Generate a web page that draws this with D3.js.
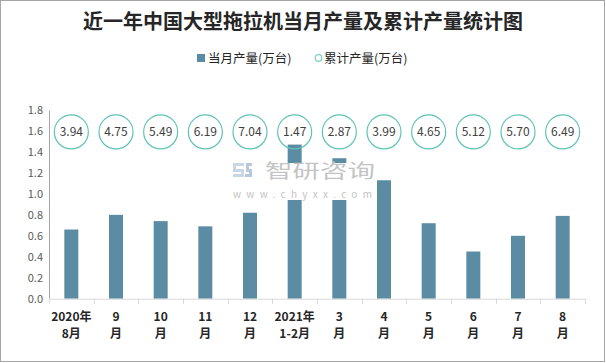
<!DOCTYPE html>
<html>
<head>
  <meta charset="utf-8">
  <title>近一年中国大型拖拉机当月产量及累计产量统计图</title>
  <style>
    body { margin: 0; background: #fff; }
    svg { display: block; font-family: "Noto Sans CJK SC", "Noto Sans", sans-serif; }
    .xlab { font-weight: bold; font-size: 12px; fill: #262626; }
    .ylab { font-size: 11px; fill: #595959; }
  </style>
</head>
<body>
  <svg width="606" height="363"></svg>
  <script src="https://d3js.org/d3.v7.min.js"></script>
  <script>
    // month labels, two lines each
    var months = [
      ['2020年', '8月'], ['9', '月'], ['10', '月'], ['11', '月'], ['12', '月'],
      ['2021年', '1-2月'], ['3', '月'], ['4', '月'], ['5', '月'], ['6', '月'], ['7', '月'], ['8', '月']
    ];
    // 当月产量 (万台)
    var monthly = [0.66, 0.80, 0.74, 0.69, 0.82, 1.47, 1.34, 1.13, 0.72, 0.45, 0.60, 0.79];
    // 累计产量 (万台)
    var cumulative = ['3.94', '4.75', '5.49', '6.19', '7.04', '1.47', '2.87', '3.99', '4.65', '5.12', '5.70', '6.49'];
    var yTicks = [0, 0.2, 0.4, 0.6, 0.8, 1.0, 1.2, 1.4, 1.6, 1.8];

    var svg = d3.select('svg');
    // plot area (note: "top" is a reserved window prop, so prefix these)
    var plotL = 49, plotR = 585, plotT = 110, plotB = 298.7;

    // outer frame
    svg.append('rect')
      .attr('x', 0.5).attr('y', 0.5).attr('width', 604).attr('height', 361)
      .attr('fill', '#fff').attr('stroke', '#a6a6a6');

    svg.append('text')
      .attr('x', 303).attr('y', 29)
      .attr('text-anchor', 'middle')
      .style('font-size', '20px').style('font-weight', 'bold').style('fill', '#262626')
      .text('近一年中国大型拖拉机当月产量及累计产量统计图');

    // legend
    var leg = svg.append('g').style('font-size', '12.5px').style('fill', '#262626');
    leg.append('rect').attr('x', 197).attr('y', 54).attr('width', 8).attr('height', 8).attr('fill', '#5b8ca3');
    leg.append('text').attr('x', 208).attr('y', 62.5).text('当月产量(万台)');
    leg.append('circle').attr('cx', 318.5).attr('cy', 58).attr('r', 3.3)
      .attr('fill', 'none').attr('stroke', '#7fcfc6').attr('stroke-width', 1.2);
    leg.append('text').attr('x', 324).attr('y', 62.5).text('累计产量(万台)');

    var x = d3.scaleBand().domain(d3.range(months.length)).range([plotL, plotR]);
    var y = d3.scaleLinear().domain([0, 1.8]).range([plotB, plotT]);

    // y axis
    var yAxis = svg.append('g')
      .attr('transform', 'translate(' + plotL + ',0)')
      .call(d3.axisLeft(y).tickValues(yTicks).tickFormat(d3.format('.1f')).tickSize(0).tickPadding(6));
    yAxis.select('.domain').attr('stroke', '#a6a6a6');
    yAxis.selectAll('text').attr('class', 'ylab').attr('font-family', null).attr('font-size', null);
    yAxis.attr('font-family', null).attr('font-size', null);

    // bars
    var bw = 14;
    svg.append('g').selectAll('rect')
      .data(monthly)
      .join('rect')
      .attr('x', function(d, i) { return x(i) + x.bandwidth() / 2 - bw / 2; })
      .attr('y', function(d) { return y(d); })
      .attr('width', bw)
      .attr('height', function(d) { return plotB - y(d); })
      .attr('fill', '#5b8ca3');

    // x axis line and ticks at band edges
    var xa = svg.append('g');
    xa.append('line').attr('x1', plotL).attr('x2', plotR).attr('y1', plotB + 0.5).attr('y2', plotB + 0.5)
      .attr('stroke', '#d9d9d9');
    xa.selectAll('line.tk')
      .data(d3.range(months.length + 1))
      .join('line').attr('class', 'tk')
      .attr('x1', function(i) { return Math.round(plotL + i * x.step()) + 0.5; })
      .attr('x2', function(i) { return Math.round(plotL + i * x.step()) + 0.5; })
      .attr('y1', plotB).attr('y2', plotB + 5)
      .attr('stroke', '#d9d9d9');

    var labs = xa.selectAll('text.xlab')
      .data(months)
      .join('text').attr('class', 'xlab')
      .attr('text-anchor', 'middle');
    labs.append('tspan')
      .attr('x', function(d, i) { return x(i) + x.bandwidth() / 2; })
      .attr('y', 321)
      .text(function(d) { return d[0]; });
    labs.append('tspan')
      .attr('x', function(d, i) { return x(i) + x.bandwidth() / 2; })
      .attr('y', 338)
      .text(function(d) { return d[1]; });

    // watermark (white box over the bars)
    var wm = svg.append('g');
    wm.append('rect').attr('x', 228).attr('y', 163).attr('width', 148).attr('height', 37).attr('fill', '#fff');
    wm.append('path')
      .attr('d', 'M233,163h11v3h-8v3h8v8h-11v-3h8v-2h-8z')
      .attr('fill', '#c9d6e6');
    wm.append('path')
      .attr('d', 'M246,163h6v3h-3v3h3v8h-7v-3h4v-2h-3z')
      .attr('fill', '#b8c8dc');
    wm.append('text')
      .attr('x', 265).attr('y', 178)
      .attr('textLength', 110).attr('lengthAdjust', 'spacingAndGlyphs')
      .style('font-size', '19px').style('fill', '#c4c4c4')
      .text('智研咨询');
    wm.append('text')
      .attr('x', 233).attr('y', 197.5)
      .attr('textLength', 139).attr('lengthAdjust', 'spacing')
      .style('font-size', '10px').style('fill', '#c4c4c4')
      .text('www.chyxx.com');

    // cumulative circles sit on the 1.6 line
    var cg = svg.append('g').selectAll('g')
      .data(cumulative)
      .join('g')
      .attr('transform', function(d, i) {
        return 'translate(' + (x(i) + x.bandwidth() / 2) + ',' + (y(1.6) + 1) + ')';
      });
    cg.append('circle').attr('r', 17)
      .attr('fill', 'none').attr('stroke', '#5fc3b8').attr('stroke-width', 1.2);
    cg.append('text')
      .attr('text-anchor', 'middle').attr('dy', '0.36em')
      .style('font-size', '12px').style('fill', '#404040')
      .text(function(d) { return d; });
  </script>
</body>
</html>
